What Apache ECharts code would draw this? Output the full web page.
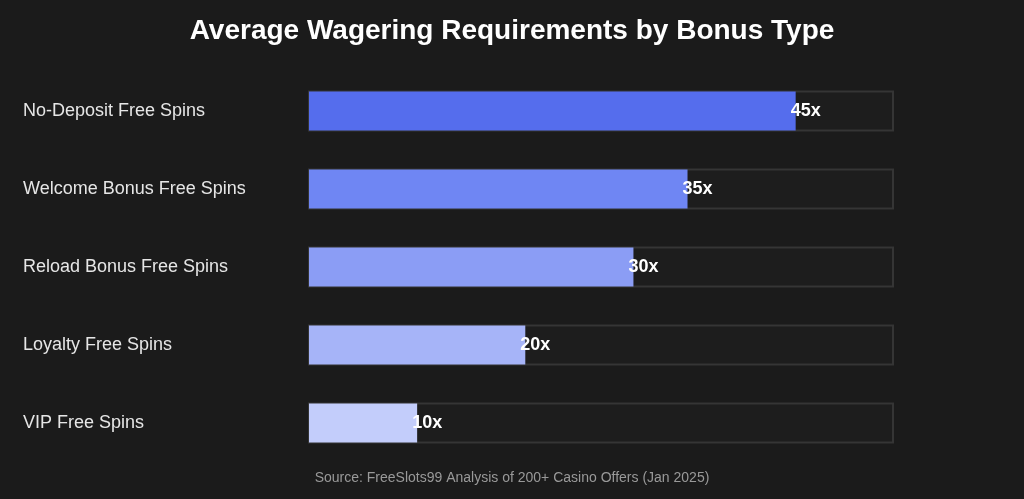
<!DOCTYPE html>
<html><head><meta charset="utf-8">
<script src="https://cdn.jsdelivr.net/npm/echarts@6/dist/echarts.min.js"></script>
<style>html,body{margin:0;padding:0;background:#1b1b1b}#c{width:1024px;height:499px}</style>
</head><body><div id="c"></div>
<script>
const categories = ['No-Deposit Free Spins','Welcome Bonus Free Spins','Reload Bonus Free Spins','Loyalty Free Spins','VIP Free Spins'];
const values = [45, 35, 30, 20, 10];
const colors = ['#556ded','#6f86f3','#8b9df5','#a6b4f8','#c3cdfb'];
const chart = echarts.init(document.getElementById('c'));
chart.setOption({
  backgroundColor: '#1b1b1b',
  title: [
    {text: 'Average Wagering Requirements by Bonus Type', left: 'center', top: 12,
     textStyle: {color: '#fff', fontSize: 28, fontWeight: 'bold', fontFamily: 'Liberation Sans, Arial'}},
    {text: 'Source: FreeSlots99 Analysis of 200+ Casino Offers (Jan 2025)', left: 'center', top: 466,
     textStyle: {color: '#999', fontSize: 14, fontWeight: 'normal', fontFamily: 'Liberation Sans, Arial'}}
  ],
  grid: {left: 309, right: 131, top: 72, bottom: 37},
  xAxis: {type: 'value', min: 0, max: 54, show: false},
  yAxis: {type: 'category', inverse: true, data: categories,
    axisLine: {show: false}, axisTick: {show: false},
    axisLabel: {color: '#e6e6e6', fontSize: 18, align: 'left', margin: 286, fontFamily: 'Liberation Sans, Arial'}},
  series: [{
    type: 'bar', barWidth: 39,
    data: values.map((v, i) => ({value: v, itemStyle: {color: colors[i]}})),
    showBackground: true,
    backgroundStyle: {color: '#1d1d1d', borderColor: '#353535', borderWidth: 2},
    label: {show: true, position: 'right', distance: -5, color: '#fff', fontWeight: 'bold', fontSize: 18,
      fontFamily: 'Liberation Sans, Arial', formatter: p => p.value + 'x'}
  }]
});
</script></body></html>
